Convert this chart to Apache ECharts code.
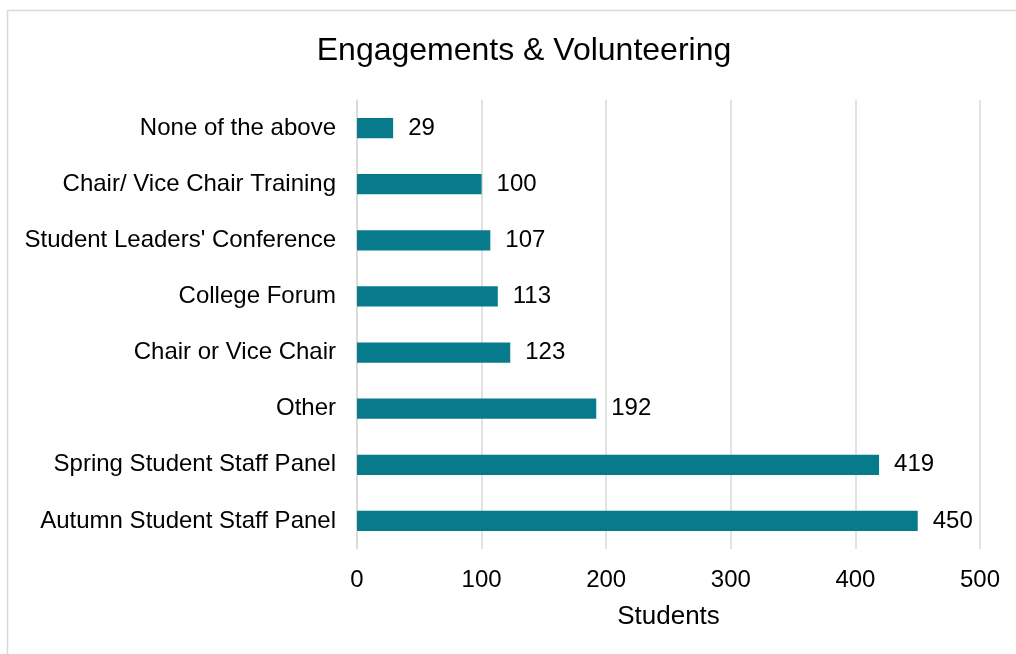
<!DOCTYPE html>
<html>
<head>
<meta charset="utf-8">
<script src="https://cdn.jsdelivr.net/npm/echarts@6/dist/echarts.min.js"></script>
<style>
  html, body { margin: 0; padding: 0; background: #fff; }
  #chart { width: 1016px; height: 654px; }
</style>
</head>
<body>
<div id="chart"></div>
<script>
// Activities, listed top to bottom
const activities = [
  'None of the above',
  'Chair/ Vice Chair Training',
  "Student Leaders' Conference",
  'College Forum',
  'Chair or Vice Chair',
  'Other',
  'Spring Student Staff Panel',
  'Autumn Student Staff Panel'
];
const students = [29, 100, 107, 113, 123, 192, 419, 450];
const studentTicks = [0, 100, 200, 300, 400, 500];

const font = 'Liberation Sans, Arial, sans-serif';
const chart = echarts.init(document.getElementById('chart'), null, { renderer: 'canvas' });

chart.setOption({
  backgroundColor: '#fff',
  animation: false,
  textStyle: { fontFamily: font },
  graphic: [{
    type: 'rect',
    shape: { x: 7.5, y: 10.5, width: 1100, height: 700 },
    style: { fill: 'none', stroke: '#d9d9d9', lineWidth: 1.5 },
    silent: true
  }],
  title: {
    text: 'Engagements & Volunteering',
    left: 519,
    top: 30,
    textAlign: 'center',
    textStyle: { fontFamily: font, fontSize: 32, fontWeight: 'normal', color: '#000' }
  },
  grid: { left: 357, right: 36, top: 100, bottom: 105, containLabel: false },
  xAxis: {
    type: 'value',
    min: studentTicks[0],
    max: studentTicks[studentTicks.length - 1],
    interval: studentTicks[1] - studentTicks[0],
    name: 'Students',
    nameLocation: 'middle',
    nameGap: 55,
    nameTextStyle: { fontFamily: font, fontSize: 26, color: '#000' },
    axisLine: { show: false },
    axisTick: { show: false },
    axisLabel: { fontFamily: font, fontSize: 24, color: '#000', margin: 19 },
    splitLine: { show: true, lineStyle: { color: '#d9d9d9', width: 1.5 } }
  },
  yAxis: {
    type: 'category',
    data: activities,
    inverse: true,
    axisLine: { show: true, lineStyle: { color: '#d9d9d9', width: 1.5 } },
    axisTick: { show: false },
    axisLabel: { fontFamily: font, fontSize: 24, color: '#000', margin: 21 }
  },
  series: [{
    type: 'bar',
    data: students,
    barWidth: '36%',
    itemStyle: { color: '#077a8b' },
    label: {
      show: true,
      position: 'right',
      distance: 15,
      fontFamily: font,
      fontSize: 24,
      color: '#000'
    }
  }]
});
</script>
</body>
</html>
